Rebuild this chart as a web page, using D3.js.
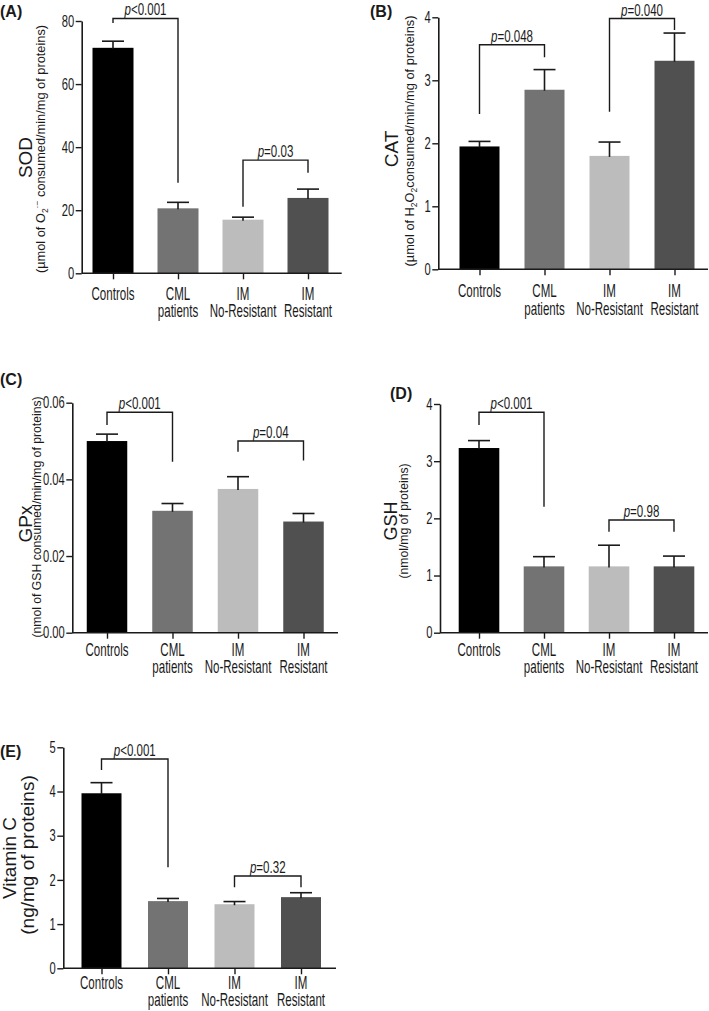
<!DOCTYPE html>
<html><head><meta charset="utf-8">
<script src="https://cdn.jsdelivr.net/npm/d3@7"></script>
<style>body{margin:0;background:#fff} svg{display:block}</style>
</head><body>
<svg id="chart" width="709" height="1011"></svg>
<script>
// ---------- data ----------
const categories = ["Controls", "CML patients", "IM No-Resistant", "IM Resistant"];
const categoryLines = [["Controls"], ["CML", "patients"], ["IM", "No-Resistant"], ["IM", "Resistant"]];
const barColors = ["#000000", "#737373", "#bcbcbc", "#505050"];

const sodMean = [71.5, 20.6, 17.0, 23.9];
const sodErr  = [2.1, 1.9, 0.8, 2.8];
const sodTicks = [0, 20, 40, 60, 80];
const sodP = ["<0.001", "=0.03"];

const catMean = [1.95, 2.85, 1.80, 3.31];
const catErr  = [0.08, 0.32, 0.22, 0.44];
const catTicks = [0, 1, 2, 3, 4];
const catP = ["=0.048", "=0.040"];

const gpxMean = [0.0500, 0.0318, 0.0375, 0.0290];
const gpxErr  = [0.0018, 0.0019, 0.0032, 0.0021];
const gpxTicks = [0, 0.02, 0.04, 0.06];
const gpxP = ["<0.001", "=0.04"];

const gshMean = [3.23, 1.16, 1.16, 1.16];
const gshErr  = [0.13, 0.17, 0.37, 0.18];
const gshTicks = [0, 1, 2, 3, 4];
const gshP = ["<0.001", "=0.98"];

const vitcMean = [3.96, 1.52, 1.45, 1.61];
const vitcErr  = [0.24, 0.06, 0.06, 0.10];
const vitcTicks = [0, 1, 2, 3, 4, 5];
const vitcP = ["<0.001", "=0.32"];

const comparisons = [[0, 1], [2, 3]];

// ---------- layout ----------
const panels = [
  { letter: "(A)", lx: 0, ly: 17, mean: sodMean, err: sodErr, ticks: sodTicks, fmt: d3.format("d"), p: sodP,
    axisX: 81.7, axisEnd: 341.7, y0: 273.3, yTop: 21, c0: 113, c3: 308, barW: 41, labOff: 26.5, labDy: 17,
    title: { lines: ["SOD"], x: 32, y: 157.5, size: 19 },
    sub: { kind: "sod", x: 45, y: 149, size: 12.8 },
    brackets: [{ top: 80.8, l: 79.4, r: 28.7 }, { top: 35.9, l: 21.1, r: 31.9 }] },
  { letter: "(B)", lx: 370, ly: 17, mean: catMean, err: catErr, ticks: catTicks, fmt: d3.format("d"), p: catP,
    axisX: 438.3, axisEnd: 708, y0: 269.3, yTop: 17.3, c0: 479.5, c3: 674.5, barW: 40, labOff: 27.5, labDy: 18,
    title: { lines: ["CAT"], x: 398, y: 149, size: 19 },
    sub: { kind: "cat", x: 414, y: 141, size: 12.8 },
    brackets: [{ top: 3.565, l: 2.465, r: 3.365 }, { top: 3.98, l: 2.5, r: 3.80 }] },
  { letter: "(C)", lx: 0, ly: 385, mean: gpxMean, err: gpxErr, ticks: gpxTicks, fmt: d3.format(".2f"), p: gpxP,
    axisX: 72.3, axisEnd: 338, y0: 632.7, yTop: 402.7, c0: 107, c3: 303.5, barW: 40.5, labOff: 23, labDy: 17,
    title: { lines: ["GPx"], x: 32, y: 524, size: 19 },
    sub: { kind: "gpx", x: 41, y: 517, size: 12.2 },
    brackets: [{ top: 0.0575, l: 0.0542, r: 0.0446 }, { top: 0.0500, l: 0.0472, r: 0.0449 }] },
  { letter: "(D)", lx: 390, ly: 399, mean: gshMean, err: gshErr, ticks: gshTicks, fmt: d3.format("d"), p: gshP,
    axisX: 440, axisEnd: 708, y0: 632.7, yTop: 404, c0: 479, c3: 674, barW: 40.6, labOff: 23.5, labDy: 17,
    title: { lines: ["GSH"], x: 397, y: 521, size: 18 },
    sub: { kind: "gsh", x: 408, y: 521, size: 12.2 },
    brackets: [{ top: 3.855, l: 3.633, r: 2.204 }, { top: 1.971, l: 1.767, r: 1.767 }] },
  { letter: "(E)", lx: 0, ly: 757, mean: vitcMean, err: vitcErr, ticks: vitcTicks, fmt: d3.format("d"), p: vitcP,
    axisX: 63.3, axisEnd: 336, y0: 968.3, yTop: 747.3, c0: 101.5, c3: 301, barW: 40, labOff: 20.5, labDy: 17,
    title: { lines: ["Vitamin C"], x: 16, y: 858, size: 19 },
    sub: { kind: "vitc", x: 34, y: 855, size: 19 },
    brackets: [{ top: 4.735, l: 4.487, r: 2.285 }, { top: 2.088, l: 1.833, r: 1.833 }] }
];

const svg = d3.select("#chart");
const INK = "#1a1a1a";
const FONT = "Liberation Sans, Arial, sans-serif";
const SX = 0.66;      // horizontal condensing for narrow labels
const TICK_FS = 16, TICK_SX = 0.7;
const CAT_FS = 17.5;
const P_FS = 16.5, P_SX = 0.7;

function subLabel(t, kind) {
  const add = (s, o = {}) => {
    const ts = t.append("tspan").text(s);
    if (o.dy) ts.attr("dy", o.dy);
    if (o.fs) ts.attr("font-size", o.fs);
    return ts;
  };
  if (kind === "sod") {
    add("(µmol of O"); add("2", { dy: 3, fs: "8.5px" }); add("·−", { dy: -8, fs: "8.5px" });
    add(" consumed/min/mg of proteins)", { dy: 5 });
  } else if (kind === "cat") {
    add("(µmol of H"); add("2", { dy: 3, fs: "8.5px" }); add("O", { dy: -3 }); add("2", { dy: 3, fs: "8.5px" });
    add("consumed/min/mg of proteins)", { dy: -3 });
  } else if (kind === "gpx") {
    add("(nmol of GSH consumed/min/mg of proteins)");
  } else if (kind === "gsh") {
    add("(nmol/mg of proteins)");
  } else if (kind === "vitc") {
    add("(ng/mg of proteins)");
  }
}

panels.forEach(P => {
  const g = svg.append("g");
  const y = d3.scaleLinear().domain([0, P.ticks[P.ticks.length - 1]]).range([P.y0, P.yTop]);
  const x = d3.scalePoint().domain(categories).range([P.c0, P.c3]);

  // bars
  g.selectAll("rect.bar").data(categories).join("rect")
    .attr("x", (d) => x(d) - P.barW / 2)
    .attr("width", P.barW)
    .attr("y", (d, i) => y(P.mean[i]))
    .attr("height", (d, i) => P.y0 - y(P.mean[i]))
    .attr("fill", (d, i) => barColors[i]);

  // error bars (upper)
  const eb = g.selectAll("g.err").data(categories).join("g");
  eb.append("line")
    .attr("x1", d => x(d)).attr("x2", d => x(d))
    .attr("y1", (d, i) => y(P.mean[i]) + 1)
    .attr("y2", (d, i) => y(P.mean[i] + P.err[i]))
    .attr("stroke", INK).attr("stroke-width", 1.6);
  eb.append("line")
    .attr("x1", d => x(d) - 11).attr("x2", d => x(d) + 11)
    .attr("y1", (d, i) => y(P.mean[i] + P.err[i]))
    .attr("y2", (d, i) => y(P.mean[i] + P.err[i]))
    .attr("stroke", INK).attr("stroke-width", 1.6);

  // y axis
  const ya = g.append("g").attr("transform", `translate(${P.axisX},0)`)
    .call(d3.axisLeft(y).tickValues(P.ticks).tickFormat(P.fmt).tickSize(6).tickSizeOuter(0).tickPadding(2));
  ya.select(".domain").attr("stroke", INK).attr("stroke-width", 1.6);
  ya.selectAll(".tick line").attr("stroke", INK).attr("stroke-width", 1.4);
  ya.selectAll(".tick text")
    .attr("font-family", FONT).attr("font-size", TICK_FS)
    .attr("fill", INK)
    .attr("x", -7.5 / TICK_SX)
    .attr("transform", `scale(${TICK_SX},1)`);

  // x axis line
  g.append("line").attr("x1", P.axisX).attr("x2", P.axisEnd)
    .attr("y1", P.y0).attr("y2", P.y0).attr("stroke", INK).attr("stroke-width", 1.6);
  const xa = g.append("g").attr("transform", `translate(0,${P.y0})`)
    .call(d3.axisBottom(x).tickSize(6).tickSizeOuter(0).tickFormat(""));
  xa.select(".domain").remove();
  xa.selectAll(".tick line").attr("stroke", INK).attr("stroke-width", 1.4);

  // category labels
  categories.forEach((c, i) => {
    const t = g.append("text")
      .attr("transform", `translate(${x(c)},${P.y0 + P.labOff}) scale(${SX},1)`)
      .attr("text-anchor", "middle")
      .attr("font-family", FONT).attr("font-size", CAT_FS)
      .attr("fill", INK);
    categoryLines[i].forEach((ln, k) => {
      t.append("tspan").attr("x", 0).attr("dy", k === 0 ? 0 : P.labDy).text(ln);
    });
  });

  // brackets
  comparisons.forEach((cmp, k) => {
    const b = P.brackets[k];
    const xl = x(categories[cmp[0]]), xr = x(categories[cmp[1]]);
    const yt = y(b.top);
    g.append("path")
      .attr("d", `M${xl},${y(b.l)}V${yt}H${xr}V${y(b.r)}`)
      .attr("fill", "none").attr("stroke", INK).attr("stroke-width", 1.4);
    const t = g.append("text")
      .attr("transform", `translate(${(xl + xr) / 2},${yt - 3}) scale(${P_SX},1)`)
      .attr("text-anchor", "middle")
      .attr("font-family", FONT).attr("font-size", P_FS)
      .attr("fill", INK);
    t.append("tspan").attr("font-style", "italic").text("p");
    t.append("tspan").text(P.p[k]);
  });

  // axis titles
  g.append("text")
    .attr("transform", `translate(${P.title.x},${P.title.y}) rotate(-90)`)
    .attr("text-anchor", "middle")
    .attr("font-family", FONT).attr("font-size", P.title.size)
    .attr("fill", INK).text(P.title.lines[0]);
  const st = g.append("text")
    .attr("transform", `translate(${P.sub.x},${P.sub.y}) rotate(-90)`)
    .attr("text-anchor", "middle")
    .attr("font-family", FONT).attr("font-size", P.sub.size)
    .attr("fill", INK);
  subLabel(st, P.sub.kind);

  // panel letter
  g.append("text").attr("x", P.lx).attr("y", P.ly)
    .attr("font-family", FONT).attr("font-size", 16)
    .attr("font-weight", "bold").attr("fill", INK).text(P.letter);
});
</script>
</body></html>
